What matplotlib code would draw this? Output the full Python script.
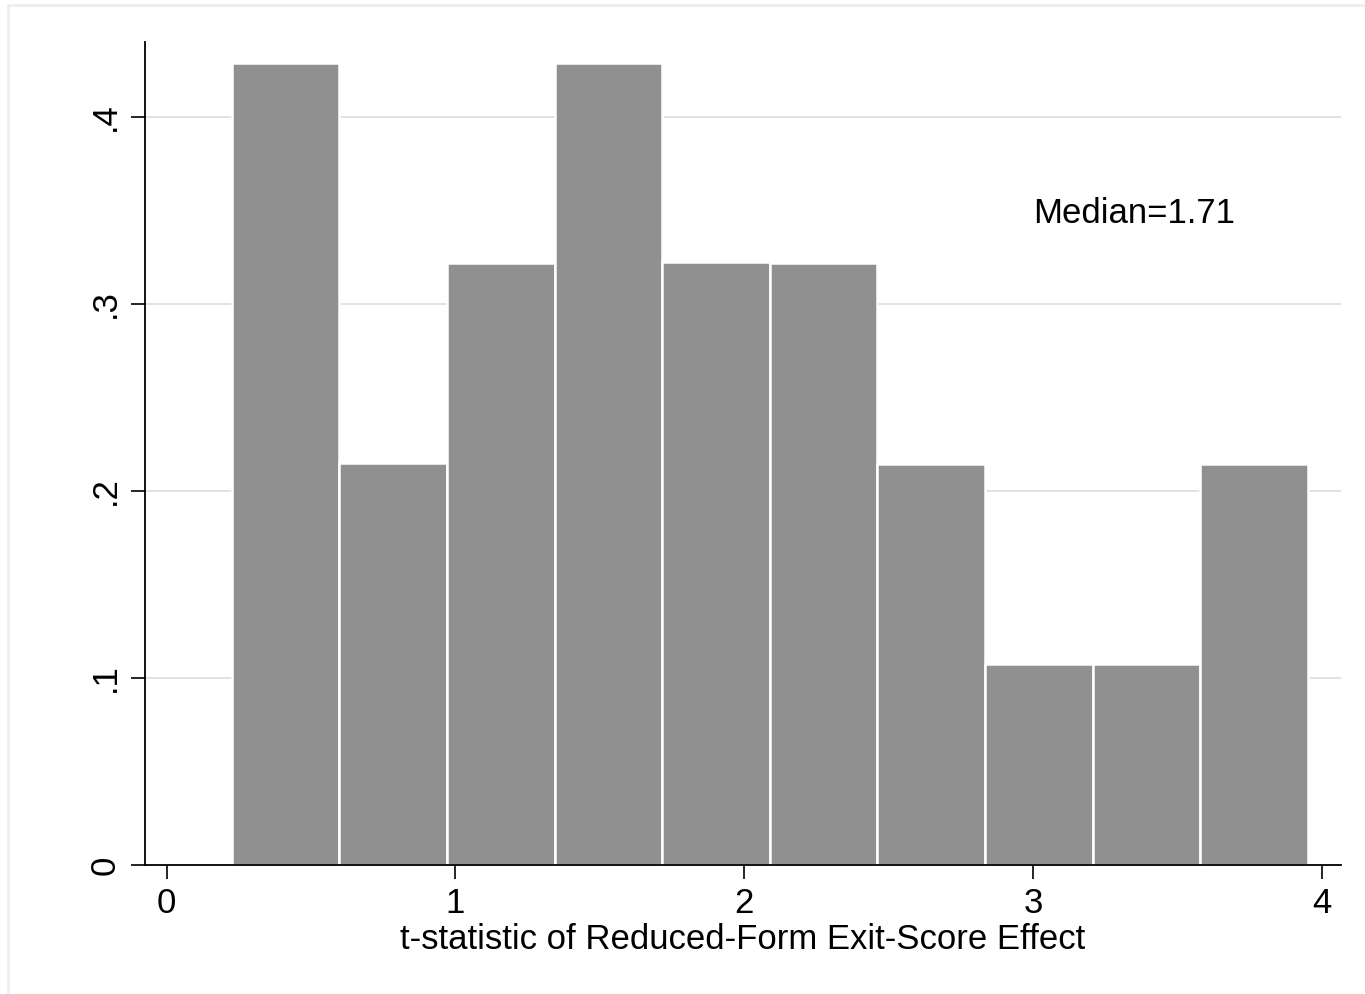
import matplotlib
matplotlib.use("Agg")
import matplotlib.pyplot as plt
from matplotlib.lines import Line2D
import numpy as np

# histogram of t-statistics: 10 bins, 25 observations
bin_edges = [0.225, 0.598, 0.970, 1.343, 1.716, 2.088, 2.461, 2.834, 3.207, 3.579, 3.952]
bin_counts = [4, 2, 3, 4, 3, 3, 2, 1, 1, 2]
x_ticks = [0, 1, 2, 3, 4]
y_ticks = [0, 0.1, 0.2, 0.3, 0.4]
y_tick_labels = ["0", ".1", ".2", ".3", ".4"]
median_value = 1.71

plt.rcParams["font.family"] = ["Liberation Sans", "DejaVu Sans"]

fig = plt.figure(figsize=(13.65, 9.94), dpi=100)
ax = fig.add_axes([145 / 1365, 1 - 865 / 994, (1341 - 145) / 1365, (865 - 42) / 994])

edges = np.array(bin_edges)
centers = (edges[:-1] + edges[1:]) / 2
ax.hist(centers, bins=edges, weights=bin_counts, density=True,
        facecolor="#909090", edgecolor="white", linewidth=1.8, zorder=2)

ax.set_xlim(-0.075, 4.066)
ax.set_ylim(0, 0.44)

ax.set_xticks(x_ticks)
ax.set_xticklabels([str(t) for t in x_ticks])
ax.set_yticks(y_ticks)
ax.set_yticklabels(y_tick_labels, rotation=90, va="center")
ax.tick_params(axis="both", length=10, width=1.2, color="black",
               labelsize=25, pad=6)
ax.tick_params(axis="y", pad=7)

for y in y_ticks[1:]:
    ax.axhline(y, color="#dddddd", linewidth=1.2, zorder=1)

for side in ["top", "right"]:
    ax.spines[side].set_visible(False)
ax.spines["left"].set_linewidth(1.3)
ax.spines["bottom"].set_linewidth(1.3)

ax.set_xlabel("t-statistic of Reduced-Form Exit-Score Effect", fontsize=25, labelpad=2)
ax.text(3.0, 0.343, "Median=%.2f" % median_value, fontsize=25, ha="left", va="baseline")

# light outer frame (top and left only)
fig.add_artist(Line2D([8 / 1365, 1], [1 - 5 / 994, 1 - 5 / 994], color="#e8f0f2", linewidth=2))
fig.add_artist(Line2D([8 / 1365, 8 / 1365], [0, 1 - 5 / 994], color="#e8f0f2", linewidth=2))

fig.savefig("out.png", dpi=100, facecolor="white")
